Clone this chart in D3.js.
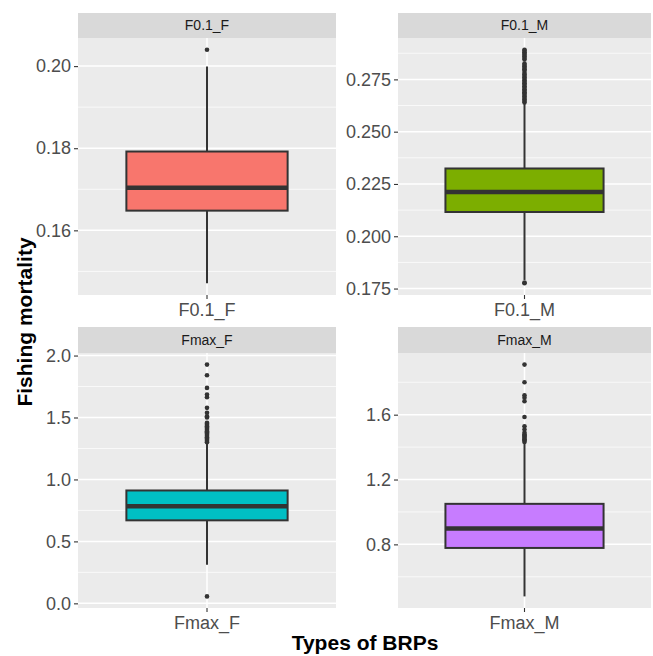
<!DOCTYPE html>
<html>
<head>
<meta charset="utf-8">
<script src="https://cdn.jsdelivr.net/npm/d3@7"></script>
<style>
  body { margin: 0; background: #fff; }
  text { font-family: "Liberation Sans", Arial, sans-serif; }
</style>
</head>
<body>
<svg id="chart" width="653" height="656"></svg>
<script>
// facet names and box stats
const panelNames = ['F0.1_F', 'F0.1_M', 'Fmax_F', 'Fmax_M'];
const fills = ['#F8766D', '#7CAE00', '#00BFC4', '#C77CFF'];
const whiskerLow = [0.1471, 0.1791, 0.311, 0.479];
const q1 = [0.1648, 0.2116, 0.670, 0.778];
const medians = [0.1704, 0.2212, 0.783, 0.8975];
const q3 = [0.1792, 0.2324, 0.911, 1.050];
const whiskerHigh = [0.1999, 0.2636, 1.29, 1.425];
const outliersF01F = [0.2040];
const outliersF01M = [0.1775, 0.1779, 0.2640, 0.2647, 0.2654, 0.2661, 0.2668, 0.2675, 0.2682, 0.2689,
  0.2696, 0.2703, 0.2710, 0.2717, 0.2724, 0.2731, 0.2738, 0.2745, 0.2752, 0.2759, 0.2766, 0.2773,
  0.2780, 0.2791, 0.2798, 0.2805, 0.2812, 0.2819, 0.2826, 0.2845, 0.2852, 0.2859, 0.2866, 0.2873,
  0.2880, 0.2887, 0.2892];
const outliersFmaxF = [0.056, 1.300, 1.310, 1.320, 1.330, 1.340, 1.350, 1.360, 1.370, 1.380, 1.390,
  1.400, 1.410, 1.420, 1.430, 1.440, 1.450, 1.457, 1.500, 1.510, 1.538, 1.578, 1.663, 1.685, 1.739,
  1.841, 1.927];
const outliersFmaxM = [1.432, 1.440, 1.448, 1.456, 1.464, 1.472, 1.477, 1.488, 1.508, 1.528, 1.586,
  1.683, 1.704, 1.720, 1.800, 1.909];
const outliers = [outliersF01F, outliersF01M, outliersFmaxF, outliersFmaxM];
const majorTicks = [
  [0.16, 0.18, 0.20],
  [0.175, 0.200, 0.225, 0.250, 0.275],
  [0.0, 0.5, 1.0, 1.5, 2.0],
  [0.8, 1.2, 1.6]
];
const minorTicks = [
  [0.15, 0.17, 0.19],
  [0.1875, 0.2125, 0.2375, 0.2625, 0.2875],
  [0.25, 0.75, 1.25, 1.75],
  [0.6, 1.0, 1.4, 1.8]
];
const tickFormats = ['.2f', '.3f', '.1f', '.1f'];

const svg = d3.select('#chart');

// facet grid geometry
const cols = [[78, 336], [398, 651]];
const rows = [{ strip: 13, top: 38, bottom: 295 }, { strip: 327, top: 353, bottom: 608 }];

panelNames.forEach((name, i) => {
	const c = cols[i % 2];
	const r = rows[Math.floor(i / 2)];
	const w = c[1] - c[0];
	const h = r.bottom - r.top;

	const g = svg.append('g').attr('transform', 'translate(' + c[0] + ',' + r.top + ')');

	const all = outliers[i].concat([whiskerLow[i], whiskerHigh[i]]);
	const lo = d3.min(all), hi = d3.max(all);
	const pad = (hi - lo) * 0.05;

	const yScale = d3.scaleLinear().domain([lo - pad, hi + pad]).range([h, 0]);
	const xScale = d3.scaleBand().domain([name]).range([0, w]).paddingOuter(0);
	// ggplot: discrete axis expands 0.6 each side, box width 0.75
	const unit = w / 1.2;
	const cx = xScale(name) + xScale.bandwidth() / 2;
	const boxW = unit * 0.75;

	// strip
	svg.append('rect')
		.attr('x', c[0]).attr('y', r.strip)
		.attr('width', w).attr('height', r.top - r.strip)
		.attr('fill', '#D9D9D9');
	svg.append('text')
		.attr('x', c[0] + w / 2).attr('y', (r.strip + r.top) / 2)
		.attr('dy', '0.35em')
		.attr('text-anchor', 'middle')
		.attr('font-size', 14)
		.attr('fill', '#1A1A1A')
		.text(name);

	// panel background and grid
	g.append('rect').attr('width', w).attr('height', h).attr('fill', '#EBEBEB');
	g.selectAll('.minor').data(minorTicks[i]).enter().append('line')
		.attr('x1', 0).attr('x2', w)
		.attr('y1', d => yScale(d)).attr('y2', d => yScale(d))
		.attr('stroke', '#fff').attr('stroke-width', 0.7);
	g.selectAll('.major').data(majorTicks[i]).enter().append('line')
		.attr('x1', 0).attr('x2', w)
		.attr('y1', d => yScale(d)).attr('y2', d => yScale(d))
		.attr('stroke', '#fff').attr('stroke-width', 1.5);
	g.append('line')
		.attr('x1', cx).attr('x2', cx).attr('y1', 0).attr('y2', h)
		.attr('stroke', '#fff').attr('stroke-width', 1.5);

	// y axis
	const yAxis = d3.axisLeft(yScale)
		.tickValues(majorTicks[i])
		.tickFormat(d3.format(tickFormats[i]))
		.tickSize(4).tickPadding(3);
	const ya = g.append('g').call(yAxis);
	ya.select('.domain').remove();
	ya.selectAll('line').attr('stroke', '#333').attr('stroke-width', 1.1);
	ya.selectAll('text').attr('font-size', 18).attr('fill', '#4D4D4D')
		.attr('font-family', '"Liberation Sans", Arial, sans-serif');

	// x axis
	const xAxis = d3.axisBottom(xScale).tickSize(4).tickPadding(4);
	const xa = g.append('g').attr('transform', 'translate(0,' + h + ')').call(xAxis);
	xa.select('.domain').remove();
	xa.selectAll('line').attr('stroke', '#333').attr('stroke-width', 1.1);
	xa.selectAll('text').attr('font-size', 18).attr('fill', '#4D4D4D')
		.attr('font-family', '"Liberation Sans", Arial, sans-serif');

	// whiskers
	g.append('line')
		.attr('x1', cx).attr('x2', cx)
		.attr('y1', yScale(whiskerHigh[i])).attr('y2', yScale(q3[i]))
		.attr('stroke', '#333').attr('stroke-width', 2);
	g.append('line')
		.attr('x1', cx).attr('x2', cx)
		.attr('y1', yScale(q1[i])).attr('y2', yScale(whiskerLow[i]))
		.attr('stroke', '#333').attr('stroke-width', 2);

	// box
	g.append('rect')
		.attr('x', cx - boxW / 2).attr('width', boxW)
		.attr('y', yScale(q3[i])).attr('height', yScale(q1[i]) - yScale(q3[i]))
		.attr('fill', fills[i]).attr('stroke', '#333').attr('stroke-width', 2);
	g.append('line')
		.attr('x1', cx - boxW / 2).attr('x2', cx + boxW / 2)
		.attr('y1', yScale(medians[i])).attr('y2', yScale(medians[i]))
		.attr('stroke', '#333').attr('stroke-width', 4.5);

	// outliers
	g.selectAll('.out').data(outliers[i]).enter().append('circle')
		.attr('cx', cx).attr('cy', d => yScale(d)).attr('r', 2.3)
		.attr('fill', '#333');
});

// axis titles
svg.append('text')
	.attr('x', 365).attr('y', 650)
	.attr('text-anchor', 'middle')
	.attr('font-size', 21).attr('font-weight', 'bold').attr('fill', '#000')
	.text('Types of BRPs');
svg.append('text')
	.attr('transform', 'translate(32,322) rotate(-90)')
	.attr('text-anchor', 'middle')
	.attr('font-size', 21).attr('font-weight', 'bold').attr('fill', '#000')
	.text('Fishing mortality');
</script>
</body>
</html>
